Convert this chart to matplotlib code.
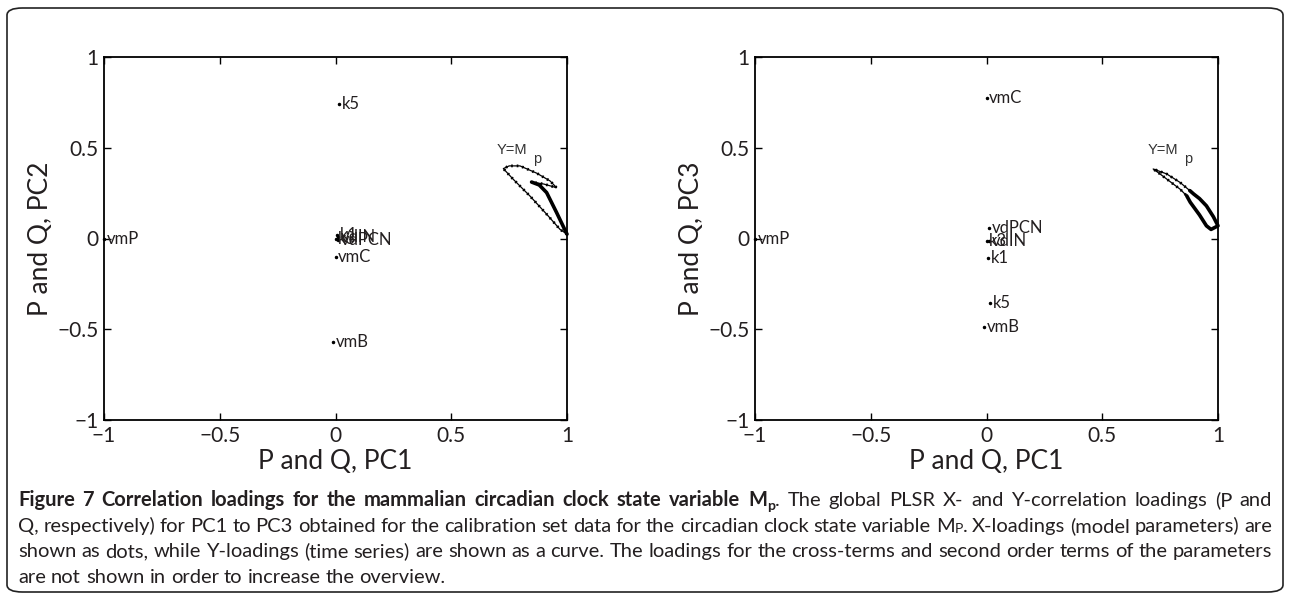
import matplotlib
matplotlib.use("Agg")
import matplotlib.pyplot as plt
from matplotlib.patches import FancyBboxPatch

# ---- data -------------------------------------------------------------
# X-loadings (model parameters): name, PC1, PC2, PC3
par_names = ["vmP", "k5", "vmC", "vmB", "k1", "k3", "vdIN", "vdPCN"]
pc1 = [-1.0, 0.015, 0.0, -0.01, 0.005, 0.0, 0.01, 0.01]
pc2 = [0.0, 0.74, -0.10, -0.57, 0.02, 0.0, 0.01, -0.01]
pc3 = [0.0, -0.357, 0.776, -0.487, -0.107, -0.015, -0.015, 0.06]

# Y-loadings (time series of Mp), thin and dense parts of the curve
q1_thin_pc1 = [1.0, 0.97, 0.912, 0.84, 0.768, 0.725, 0.75, 0.797, 0.869, 0.927, 0.955, 0.90, 0.847]
q1_thin_pc2 = [0.024, 0.05, 0.134, 0.234, 0.326, 0.385, 0.40, 0.40, 0.36, 0.317, 0.28, 0.30, 0.311]
q1_thick_pc1 = [0.847, 0.88, 0.912, 0.955, 0.99, 1.0]
q1_thick_pc2 = [0.311, 0.295, 0.253, 0.143, 0.05, 0.024]

q2_thin_pc1 = [0.879, 0.836, 0.778, 0.72, 0.745, 0.778, 0.836, 0.865]
q2_thin_pc3 = [0.263, 0.309, 0.356, 0.383, 0.36, 0.328, 0.272, 0.235]
q2_thick_pc1 = [0.865, 0.88, 0.92, 0.95, 0.97, 0.985, 1.0, 0.98, 0.95, 0.92, 0.895, 0.879]
q2_thick_pc3 = [0.235, 0.20, 0.13, 0.07, 0.05, 0.06, 0.07, 0.12, 0.18, 0.22, 0.245, 0.263]

ticks = [-1, -0.5, 0, 0.5, 1]
tick_labels = ["\u22121", "\u22120.5", "0", "0.5", "1"]

caption_lines = [
    [("Figure 7 Correlation loadings for the mammalian circadian clock state variable M", "b"), ("p", "bsub"),
     (".", "r"), (" The global PLSR X- and Y-correlation loadings (P and", "r")],
    [("Q, respectively) for PC1 to PC3 obtained for the calibration set data for the circadian clock state variable M", "r"),
     ("P", "rsub"), (". X-loadings (model parameters) are", "r")],
    [("shown as dots, while Y-loadings (time series) are shown as a curve. The loadings for the cross-terms and second order terms of the parameters", "r")],
    [("are not shown in order to increase the overview.", "r")],
]

# ---- figure -----------------------------------------------------------
fig = plt.figure(figsize=(12.9, 6), dpi=100)
fig.patch.set_facecolor("white")
font = "Lato"
ink = "#231f20"

# rounded frame
fig.patches.append(FancyBboxPatch((7 / 1290, 8 / 600), 1276 / 1290, 584 / 600,
                                  boxstyle="round,pad=0,rounding_size=0.012",
                                  transform=fig.transFigure, fill=False,
                                  ec="#222222", lw=1.2))


def loading_plot(rect, ycomp, ylabel, thin_x, thin_y, thick_x, thick_y):
    ax = fig.add_axes(rect)
    ax.set_xlim(-1, 1)
    ax.set_ylim(-1, 1)
    ax.set_xticks(ticks)
    ax.set_yticks(ticks)
    ax.set_xticklabels(tick_labels, family=font, fontsize=15, color=ink)
    ax.set_yticklabels(tick_labels, family=font, fontsize=15, color=ink)
    ax.tick_params(direction="in", length=5, width=1, top=True, right=True, pad=4)
    for s in ax.spines.values():
        s.set_linewidth(1.3)
    ax.set_xlabel("P and Q, PC1", family=font, fontsize=19, color=ink)
    ax.set_ylabel(ylabel, family=font, fontsize=19, color=ink)
    ax.xaxis.set_label_coords(0.5, -0.115)
    ax.yaxis.set_label_coords(-0.138, 0.5)
    ax.xaxis.label.set_va("center")
    ax.yaxis.label.set_va("center")

    # X-loadings as dots with names
    ax.plot(pc1, ycomp, "k.", ms=3, clip_on=False)
    for n, x, y in zip(par_names, pc1, ycomp):
        ax.text(x + 0.012, y, n, family=font, fontsize=12, color=ink,
                ha="left", va="center")

    # Y-loadings as a curve
    ax.plot(thin_x, thin_y, color="k", lw=0.9, clip_on=False)
    ax.plot(thin_x, thin_y, color="k", lw=2.0, ls=(0, (0.6, 1.4)), clip_on=False)
    ax.plot(thick_x, thick_y, color="k", lw=2.6, clip_on=False, solid_capstyle="round")
    ax.text(0.695, 0.485, "Y=M", family="Liberation Sans", fontsize=10.5,
            color="#333333", ha="left", va="center")
    ax.text(0.855, 0.44, "p", family="Liberation Sans", fontsize=10.5,
            color="#333333", ha="left", va="center")
    return ax


loading_plot([104 / 1290, 1 - 420 / 600, 463 / 1290, 363 / 600], pc2, "P and Q, PC2",
             q1_thin_pc1, q1_thin_pc2, q1_thick_pc1, q1_thick_pc2)
loading_plot([755 / 1290, 1 - 420 / 600, 463 / 1290, 363 / 600], pc3, "P and Q, PC3",
             q2_thin_pc1, q2_thin_pc3, q2_thick_pc1, q2_thick_pc3)

# ---- caption, justified line by line -----------------------------------
renderer = fig.canvas.get_renderer()
left_px, right_px = 18, 1272
line_y = [500, 526, 551, 577]


def width_of(t):
    return t.get_window_extent(renderer).width


def split_words(runs):
    words = []
    for text, st in runs:
        parts = text.split(" ")
        for k, p in enumerate(parts):
            if k == 0 and words and not text.startswith(" ") and p != "":
                words[-1].append((p, st))
            elif p != "":
                words.append([(p, st)])
    return words


def make_styles(size):
    return {"b": dict(weight="bold", size=size, dy=0),
            "r": dict(weight="normal", size=size, dy=0),
            "bsub": dict(weight="bold", size=size * 0.7, dy=-4),
            "rsub": dict(weight="normal", size=size * 0.7, dy=-1)}


def natural_width(words, styles, space_w):
    total = 0
    for w in words:
        for p, st in w:
            s = styles[st]
            t = fig.text(0, 0, p, family=font, fontsize=s["size"], weight=s["weight"])
            total += width_of(t)
            t.remove()
    return total + space_w * (len(words) - 1)


def space_width(size):
    a = fig.text(0, 0, "x x", family=font, fontsize=size)
    b = fig.text(0, 0, "xx", family=font, fontsize=size)
    w = width_of(a) - width_of(b)
    a.remove()
    b.remove()
    return w


# pick the caption size so that the third line fills the width with plain spaces
trial = 13.0
nat = natural_width(split_words(caption_lines[2]), make_styles(trial), space_width(trial))
cap_size = trial * (right_px - left_px - 4) / nat
styles = make_styles(cap_size)
space_w = space_width(cap_size)

for li, runs in enumerate(caption_lines):
    words = split_words(runs)
    placed = []
    total = 0
    for w in words:
        items = []
        for p, st in w:
            s = styles[st]
            t = fig.text(0, 0, p, family=font, fontsize=s["size"], weight=s["weight"],
                         color=ink, va="baseline", ha="left")
            items.append((t, width_of(t), s["dy"]))
            total += items[-1][1]
        placed.append(items)
    last = li == len(caption_lines) - 1
    gap = space_w if last else (right_px - left_px - total) / max(len(placed) - 1, 1)
    x = left_px
    base = line_y[li] + 6
    for items in placed:
        for t, w, dy in items:
            t.set_position((x / 1290, 1 - (base - dy) / 600))
            x += w
        x += gap

fig.savefig("out.png", dpi=100, facecolor="white")
